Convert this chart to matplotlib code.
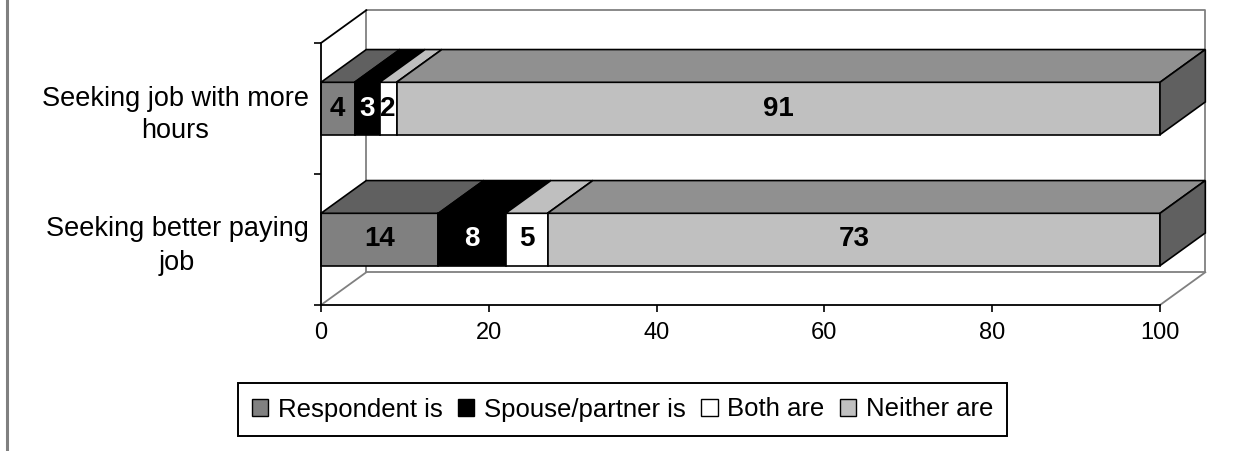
import matplotlib
matplotlib.use('Agg')
import matplotlib.pyplot as plt
from matplotlib.patches import Rectangle, Polygon, Patch
from matplotlib.lines import Line2D

plt.rcParams['font.family'] = ['Liberation Sans', 'DejaVu Sans']

categories = ['Seeking better paying\njob', 'Seeking job with more\nhours']
series_names = ['Respondent is', 'Spouse/partner is', 'Both are', 'Neither are']
respondent = [14, 4]
spouse = [8, 3]
both = [5, 2]
neither = [73, 91]
x_ticks = [0, 20, 40, 60, 80, 100]

front_colors = ['#808080', '#000000', '#ffffff', '#c0c0c0']
label_colors = ['black', 'white', 'black', 'black']


def shade(hex_color, f):
    r, g, b = (int(hex_color[i:i + 2], 16) for i in (1, 3, 5))
    return '#%02x%02x%02x' % (int(r * f), int(g * f), int(b * f))


top_colors = [shade(c, 0.75) for c in front_colors]
side_colors = [shade(c, 0.5) for c in front_colors]

DX, DY = 5.4, 0.25   # 3d depth offset in data units
BAR_H = 0.4
EDGE = 1.2

fig = plt.figure(figsize=(12.41, 4.51), dpi=100)
ax = fig.add_axes([321 / 1241, 146 / 451, 839 / 1241, 262 / 451])
ax.set_xlim(0, 100)
ax.set_ylim(0, 2)

# back wall + floor + left wall edges
wall = dict(color='#808080', lw=1.3, clip_on=False, zorder=1)
ax.plot([DX, 100 + DX, 100 + DX, DX, DX], [DY, DY, 2 + DY, 2 + DY, DY], **wall)
ax.plot([0, DX], [0, DY], **wall)
ax.plot([100, 100 + DX], [0, DY], **wall)
ax.plot([0, DX], [2, 2 + DY], color='black', lw=1.3, clip_on=False, zorder=1)

series = [respondent, spouse, both, neither]
for i, cat in enumerate(categories):
    yc = i + 0.5
    y0, y1 = yc - BAR_H / 2, yc + BAR_H / 2
    left = 0
    for k, vals in enumerate(series):
        v = vals[i]
        right = left + v
        ax.add_patch(Rectangle((left, y0), v, BAR_H, facecolor=front_colors[k], edgecolor='black',
                               lw=EDGE, zorder=3, clip_on=False))
        ax.add_patch(Polygon([(left, y1), (right, y1), (right + DX, y1 + DY), (left + DX, y1 + DY)],
                             closed=True, facecolor=top_colors[k], edgecolor='black', lw=EDGE,
                             zorder=3, clip_on=False))
        if k == len(series) - 1:
            ax.add_patch(Polygon([(right, y0), (right + DX, y0 + DY), (right + DX, y1 + DY), (right, y1)],
                                 closed=True, facecolor=side_colors[k], edgecolor='black', lw=EDGE,
                                 zorder=3, clip_on=False))
        ax.text((left + right) / 2, yc, str(v), ha='center', va='center', fontsize=20,
                fontweight='bold', color=label_colors[k], zorder=5)
        left = right

for s in ['top', 'right']:
    ax.spines[s].set_visible(False)
for s in ['left', 'bottom']:
    ax.spines[s].set_color('black')
    ax.spines[s].set_linewidth(1.3)
    ax.spines[s].set_zorder(4)

ax.set_xticks(x_ticks)
ax.tick_params(axis='x', direction='out', length=5, width=1.2, labelsize=17, pad=7)
ax.set_yticks([0.5, 1.5])
ax.set_yticklabels(categories, fontsize=19.5, multialignment='center', linespacing=1.35)
ax.set_yticks([0, 1, 2], minor=True)
ax.tick_params(axis='y', which='major', length=0, pad=9)
ax.tick_params(axis='y', which='minor', direction='out', length=5, width=1.2)
ax.set_facecolor('none')

handles = [Patch(facecolor=c, edgecolor='black', lw=1) for c in front_colors]
leg = fig.legend(handles, series_names, loc='center', bbox_to_anchor=(622.5 / 1241, 41.5 / 451), ncol=4,
                 fontsize=18.5, frameon=True, fancybox=False, framealpha=1, edgecolor='black',
                 handlelength=0.65, handleheight=0.65, handletextpad=0.38, columnspacing=0.58,
                 borderpad=0.55, borderaxespad=0)
leg.get_frame().set_linewidth(1.4)

fig.add_artist(Line2D([7 / 1241, 7 / 1241], [0, 1], color='#808080', lw=2.2))

fig.savefig('out.png', dpi=100)
